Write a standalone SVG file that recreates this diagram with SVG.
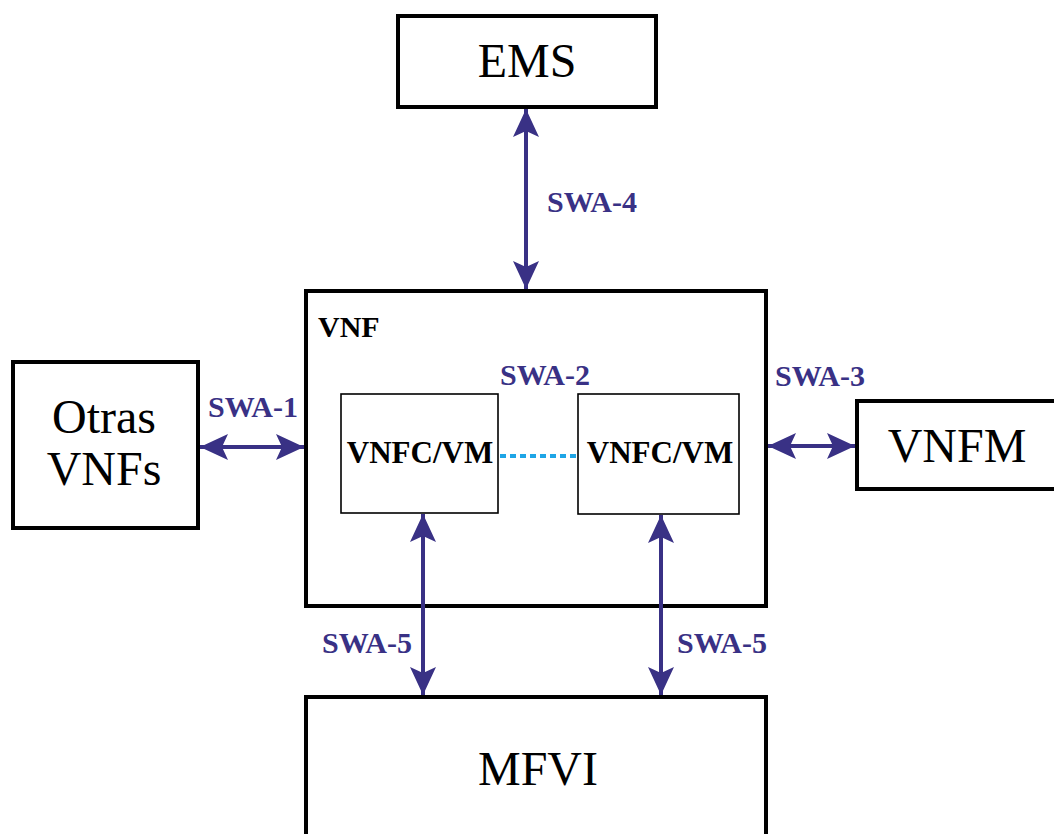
<svg xmlns="http://www.w3.org/2000/svg" width="1054" height="834" viewBox="0 0 1054 834">
  <style>
    .box { fill: #ffffff; stroke: #000000; stroke-width: 4; }
    .inner { fill: #ffffff; stroke: #000000; stroke-width: 1.6; }
    .big { font-family: "Liberation Serif", "Times New Roman", serif; font-size: 48px; fill: #000000; text-anchor: middle; }
    .comp { font-family: "Liberation Serif", "Times New Roman", serif; font-size: 31px; font-weight: bold; fill: #000000; text-anchor: middle; }
    .title { font-family: "Liberation Serif", "Times New Roman", serif; font-size: 30px; font-weight: bold; fill: #000000; }
    .lbl { font-family: "Liberation Serif", "Times New Roman", serif; font-size: 30px; font-weight: bold; fill: #393185; }
    .link { stroke: #393185; stroke-width: 4; fill: none; marker-start: url(#head); marker-end: url(#head); }
    .dots { stroke: #1ea5e6; stroke-width: 4; stroke-dasharray: 6 4; fill: none; }
  </style>
  <defs>
    <marker id="head" markerUnits="userSpaceOnUse" markerWidth="32" markerHeight="30" viewBox="-30 -15 32 30" refX="0" refY="0" orient="auto-start-reverse">
      <path d="M0,0 L-28,-13 L-22,0 L-28,13 Z" fill="#393185"/>
    </marker>
  </defs>

  <g id="ems">
    <rect class="box" x="398" y="16" width="258" height="91"/>
    <text class="big" x="527" y="77">EMS</text>
  </g>

  <g id="otras-vnfs">
    <rect class="box" x="13" y="362" width="185" height="166"/>
    <text class="big" x="104" y="433">Otras</text>
    <text class="big" x="104" y="485">VNFs</text>
  </g>

  <g id="vnf">
    <rect class="box" x="306" y="291" width="460" height="315"/>
    <text class="title" x="318" y="337">VNF</text>
  </g>

  <g id="vnfc-1">
    <rect class="inner" x="341" y="394" width="157" height="119"/>
    <text class="comp" x="420" y="463">VNFC/VM</text>
  </g>

  <g id="vnfc-2">
    <rect class="inner" x="578" y="394" width="161" height="120"/>
    <text class="comp" x="660" y="463">VNFC/VM</text>
  </g>

  <g id="vnfm">
    <rect class="box" x="857" y="401" width="200" height="88"/>
    <text class="big" x="957" y="462">VNFM</text>
  </g>

  <g id="mfvi">
    <rect class="box" x="306" y="697" width="460" height="150"/>
    <text class="big" x="538" y="785">MFVI</text>
  </g>

  <g id="connectors">
    <line class="link" x1="526" y1="109" x2="526" y2="289"/>
    <line class="link" x1="200" y1="447" x2="304" y2="447"/>
    <line class="link" x1="768" y1="446" x2="855" y2="446"/>
    <line class="link" x1="423" y1="514" x2="423" y2="695"/>
    <line class="link" x1="661" y1="515" x2="661" y2="695"/>
    <line class="dots" x1="500" y1="456" x2="577" y2="456"/>
  </g>

  <g id="labels">
    <text class="lbl" x="547" y="212">SWA-4</text>
    <text class="lbl" x="208" y="417">SWA-1</text>
    <text class="lbl" x="500" y="385">SWA-2</text>
    <text class="lbl" x="775" y="386">SWA-3</text>
    <text class="lbl" x="322" y="653">SWA-5</text>
    <text class="lbl" x="677" y="653">SWA-5</text>
  </g>
</svg>
